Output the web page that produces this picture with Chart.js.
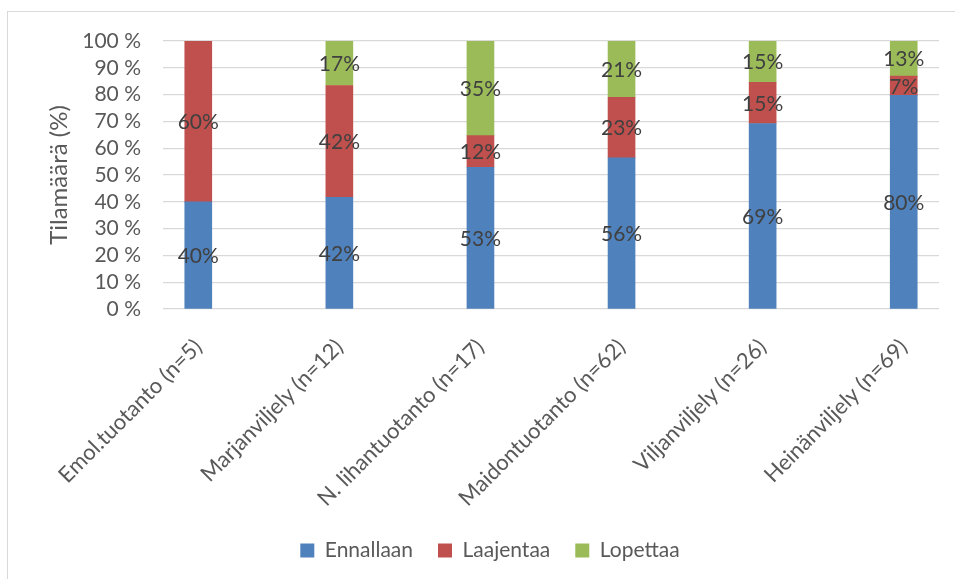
<!DOCTYPE html>
<html>
<head>
<meta charset="utf-8">
<script src="https://cdn.jsdelivr.net/npm/chart.js@4/dist/chart.umd.min.js"></script>
<style>
  html, body { margin: 0; padding: 0; background: #ffffff; overflow: hidden; }
  #frame { position: absolute; left: 7px; top: 11px; width: 1000px; height: 700px;
           border-left: 1.5px solid #d9d9d9; border-top: 1.5px solid #d9d9d9; }
  #wrap { position: absolute; left: 0; top: 0; width: 955px; height: 579px; }
</style>
</head>
<body>
<div id="frame"></div>
<div id="wrap"><canvas id="c" width="955" height="579"></canvas></div>
<script>
const categories = [
  'Emol.tuotanto (n=5)',
  'Marjanviljely (n=12)',
  'N. lihantuotanto (n=17)',
  'Maidontuotanto (n=62)',
  'Viljanviljely (n=26)',
  'Heinänviljely (n=69)'
];
const ennallaan = [40, 41.7, 52.9, 56.4, 69.2, 79.7];
const laajentaa = [60, 41.7, 11.8, 22.6, 15.4, 7.2];
const lopettaa  = [0, 16.6, 35.3, 21.0, 15.4, 13.1];
const seriesNames = ['Ennallaan', 'Laajentaa', 'Lopettaa'];
const yTicks = [0, 10, 20, 30, 40, 50, 60, 70, 80, 90, 100];

const FONT = 'Lato, "Open Sans", sans-serif';
const TXT = '#595959';

const toPoints = arr => arr.map((v, i) => ({ x: i, y: v }));

const labelPlugin = {
  id: 'barLabels',
  afterDatasetsDraw(chart) {
    const ctx = chart.ctx;
    ctx.save();
    ctx.font = '21px ' + FONT;
    ctx.fillStyle = '#404040';
    ctx.textAlign = 'center';
    ctx.textBaseline = 'middle';
    chart.data.datasets.forEach((ds, di) => {
      const meta = chart.getDatasetMeta(di);
      meta.data.forEach((el, i) => {
        const v = ds.data[i].y;
        if (!v) return;
        const { x, y, base } = el.getProps(['x', 'y', 'base'], true);
        ctx.fillText(Math.round(v) + '%', x, (y + base) / 2 + 1);
      });
    });
    ctx.restore();
  }
};

new Chart(document.getElementById('c'), {
  type: 'bar',
  data: {
    datasets: [
      { label: seriesNames[0], data: toPoints(ennallaan), backgroundColor: '#4F81BD' },
      { label: seriesNames[1], data: toPoints(laajentaa), backgroundColor: '#C0504D' },
      { label: seriesNames[2], data: toPoints(lopettaa),  backgroundColor: '#9BBB59' }
    ]
  },
  options: {
    responsive: false,
    animation: false,
    devicePixelRatio: 1,
    datasets: { bar: { barThickness: 27 } },
    layout: { padding: { left: 41, top: 41, right: 16, bottom: 8 } },
    plugins: {
      tooltip: { enabled: false },
      legend: {
        position: 'bottom',
        labels: {
          font: { family: FONT, size: 21 },
          color: TXT,
          boxWidth: 14,
          boxHeight: 14,
          padding: 25
        }
      }
    },
    scales: {
      x: {
        type: 'linear',
        stacked: true,
        offset: false,
        min: -0.25,
        max: 5.25,
        grid: { display: false },
        border: { display: false },
        afterBuildTicks: axis => { axis.ticks = categories.map((_, i) => ({ value: i })); },
        afterFit: axis => { axis.height = 206; },
        ticks: {
          autoSkip: false,
          minRotation: 45,
          maxRotation: 45,
          padding: 17,
          color: TXT,
          font: { family: FONT, size: 22 },
          callback: v => categories[v] ?? ''
        }
      },
      y: {
        stacked: true,
        min: 0,
        max: 100,
        afterBuildTicks: axis => { axis.ticks = yTicks.map(v => ({ value: v })); },
        afterFit: axis => { axis.width = 122; },
        grid: { color: '#d9d9d9', lineWidth: 1.3, drawTicks: false },
        border: { display: false },
        ticks: {
          autoSkip: false,
          padding: 22,
          color: TXT,
          font: { family: FONT, size: 21 },
          callback: v => v + ' %'
        },
        title: {
          display: true,
          text: 'Tilamäärä (%)',
          color: TXT,
          font: { family: FONT, size: 24 },
          padding: { top: 4, bottom: 4 }
        }
      }
    }
  },
  plugins: [labelPlugin]
});
</script>
</body>
</html>
